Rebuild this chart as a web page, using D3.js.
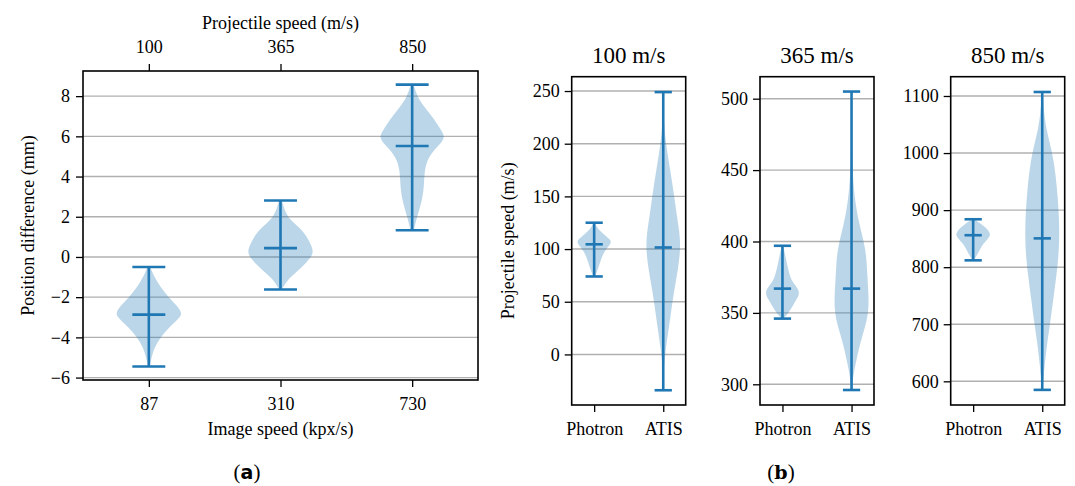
<!DOCTYPE html>
<html>
<head>
<meta charset="utf-8">
<script src="https://cdn.jsdelivr.net/npm/d3@7"></script>
<style>
  body { margin: 0; background: #fff; }
  svg { display: block; font-family: "Liberation Serif", "DejaVu Serif", serif; }
</style>
</head>
<body>
<svg id="chart" width="1075" height="486"></svg>
<script>
// ---- panel (a) data: position difference per image speed ----
const imageSpeeds = ['87', '310', '730'];
const projSpeedsTop = ['100', '365', '850'];
const posMin = [-5.45, -1.62, 1.33];
const posMax = [-0.5, 2.81, 8.57];
const posMedian = [-2.87, 0.44, 5.52];
// violin outlines: [value, relative half width]
const posShape87 = [[-5.45,0.03],[-5.0,0.08],[-4.5,0.17],[-4.0,0.35],[-3.5,0.62],[-3.0,0.95],[-2.8,1.0],[-2.5,0.9],[-2.0,0.6],[-1.5,0.35],[-1.0,0.17],[-0.5,0.04]];
const posShape310 = [[-1.62,0.04],[-1.2,0.18],[-0.8,0.45],[-0.4,0.72],[0,0.93],[0.25,1.0],[0.6,0.93],[1.0,0.8],[1.4,0.62],[1.8,0.32],[2.2,0.15],[2.81,0.04]];
const posShape730 = [[1.33,0.05],[2.0,0.15],[2.8,0.3],[3.5,0.36],[4.2,0.37],[4.8,0.45],[5.3,0.65],[5.7,0.9],[6.0,1.0],[6.4,0.85],[7.0,0.6],[7.5,0.35],[8.0,0.15],[8.57,0.04]];
const posTicks = [-6, -4, -2, 0, 2, 4, 6, 8];

// ---- panel (b) data: measured projectile speed per device ----
const devices = ['Photron', 'ATIS'];
const speedTitles = ['100 m/s', '365 m/s', '850 m/s'];
const speedMin = [[74, -34], [346, 296], [812, 585]];
const speedMax = [[125, 249], [397, 505], [884, 1107]];
const speedMedian = [[104.5, 101.5], [367, 367], [856, 850.5]];
const speedShapePhotron100 = [[74,0.05],[80,0.2],[88,0.35],[95,0.5],[100,0.7],[105,0.95],[108,1.0],[112,0.7],[117,0.35],[121,0.15],[125,0.04]];
const speedShapeAtis100 = [[-34,0.01],[-15,0.03],[0,0.1],[20,0.28],[40,0.45],[60,0.62],[80,0.85],[100,1.0],[115,0.95],[130,0.8],[150,0.64],[170,0.45],[190,0.25],[210,0.08],[230,0.02],[249,0.01]];
const speedShapePhotron365 = [[346,0.05],[350,0.35],[355,0.6],[360,0.85],[364,1.0],[368,0.85],[372,0.55],[378,0.38],[385,0.25],[391,0.15],[397,0.04]];
const speedShapeAtis365 = [[296,0.02],[305,0.08],[315,0.25],[325,0.42],[335,0.65],[345,0.9],[355,1.0],[365,0.97],[375,0.92],[385,0.88],[395,0.8],[405,0.6],[415,0.4],[425,0.25],[440,0.1],[460,0.04],[480,0.02],[505,0.01]];
const speedShapePhotron850 = [[812,0.05],[820,0.2],[830,0.38],[840,0.55],[848,0.8],[855,1.0],[862,0.95],[870,0.7],[877,0.4],[884,0.08]];
const speedShapeAtis850 = [[585,0.02],[610,0.08],[640,0.18],[670,0.3],[700,0.45],[740,0.62],[780,0.8],[820,0.95],[860,1.0],[900,0.95],[940,0.85],[980,0.7],[1010,0.5],[1040,0.25],[1070,0.1],[1107,0.02]];
const speedTicks = [[0, 50, 100, 150, 200, 250], [300, 350, 400, 450, 500], [600, 700, 800, 900, 1000, 1100]];
const speedDomains = [[-48, 263.6], [285.5, 515.4], [558.5, 1133.8]];

const blue = '#1f77b4';
const fs = 18;
const svg = d3.select('#chart');

// draws the violins and their min/max/median bars
function drawViolins(g, x, y, shapes, mins, maxs, meds) {
  const unit = x(2) - x(1);
  const area = d3.area()
    .curve(d3.curveBasis);
  shapes.forEach((s, i) => {
    const cx = x(i + 1);
    area.y(d => y(d[0]))
      .x0(d => cx - d[1] * 0.25 * unit)
      .x1(d => cx + d[1] * 0.25 * unit);
    g.append('path')
      .attr('d', area(s))
      .attr('fill', blue)
      .attr('fill-opacity', 0.3);
  });
  shapes.forEach((s, i) => {
    const cx = x(i + 1);
    const cap = 0.125 * unit;
    g.append('line')
      .attr('x1', cx).attr('x2', cx)
      .attr('y1', y(mins[i])).attr('y2', y(maxs[i]))
      .attr('stroke', blue).attr('stroke-width', 2.6);
    [mins[i], maxs[i], meds[i]].forEach(v => {
      g.append('line')
        .attr('x1', cx - cap).attr('x2', cx + cap)
        .attr('y1', y(v)).attr('y2', y(v))
        .attr('stroke', blue).attr('stroke-width', 2.6);
    });
  });
}

function drawGrid(g, y, ticks, x0, x1) {
  g.selectAll('.grid')
    .data(ticks)
    .enter()
    .append('line')
    .attr('x1', x0).attr('x2', x1)
    .attr('y1', d => y(d)).attr('y2', d => y(d))
    .attr('stroke', '#b0b0b0')
    .attr('stroke-width', 1.4);
}

function styleAxis(sel) {
  sel.select('.domain').remove();
  sel.selectAll('line').attr('stroke', '#000').attr('stroke-width', 1.3);
  sel.selectAll('text').attr('font-size', fs).attr('fill', '#000')
    .attr('font-family', '"Liberation Serif", serif');
}

function frame(g, left, top, right, bottom) {
  g.append('rect')
    .attr('x', left).attr('y', top)
    .attr('width', right - left).attr('height', bottom - top)
    .attr('fill', 'none').attr('stroke', '#000').attr('stroke-width', 1.6);
}

// ---------------- panel (a) ----------------
{
  const L = 83, R = 478, T = 71, B = 380;
  const x = d3.scaleLinear().domain([0.5, 3.5]).range([L, R]);
  const y = d3.scaleLinear().domain([-6.12, 9.25]).range([B, T]);
  const g = svg.append('g');
  g.append('clipPath').attr('id', 'clipA')
    .append('rect').attr('x', L).attr('y', T).attr('width', R - L).attr('height', B - T);
  drawGrid(g.append('g').attr('clip-path', 'url(#clipA)'), y, posTicks, L, R);
  drawViolins(g, x, y, [posShape87, posShape310, posShape730], posMin, posMax, posMedian);

  const yAx = g.append('g').attr('transform', `translate(${L},0)`)
    .call(d3.axisLeft(y).tickValues(posTicks).tickSize(7).tickPadding(6)
      .tickFormat(d => d < 0 ? '\u2212' + Math.abs(d) : d));
  styleAxis(yAx);
  const xAx = g.append('g').attr('transform', `translate(0,${B})`)
    .call(d3.axisBottom(x).tickValues([1, 2, 3]).tickSize(7).tickPadding(10)
      .tickFormat((d, i) => imageSpeeds[i]));
  styleAxis(xAx);
  const tAx = g.append('g').attr('transform', `translate(0,${T})`)
    .call(d3.axisTop(x).tickValues([1, 2, 3]).tickSize(7).tickPadding(11)
      .tickFormat((d, i) => projSpeedsTop[i]));
  styleAxis(tAx);
  frame(g, L, T, R, B);

  g.append('text').attr('x', (L + R) / 2).attr('y', 29)
    .attr('text-anchor', 'middle').attr('font-size', fs).text('Projectile speed (m/s)');
  g.append('text').attr('x', (L + R) / 2).attr('y', 435)
    .attr('text-anchor', 'middle').attr('font-size', fs).text('Image speed (kpx/s)');
  g.append('text').attr('transform', `translate(34,${(T + B) / 2}) rotate(-90)`)
    .attr('text-anchor', 'middle').attr('font-size', fs).text('Position difference (mm)');
  const lab = g.append('text').attr('x', 247).attr('y', 479)
    .attr('text-anchor', 'middle').attr('font-size', 21);
  lab.append('tspan').text('(');
  lab.append('tspan').attr('font-weight', 'bold').attr('font-family', '"DejaVu Sans", sans-serif').attr('font-size', 19).text('a');
  lab.append('tspan').text(')');
}

// ---------------- panel (b) ----------------
const bLefts = [571.7, 760, 950.7];
const bWidth = 114;
const bTop = 76.7, bBottom = 405;
const bShapes = [
  [speedShapePhotron100, speedShapeAtis100],
  [speedShapePhotron365, speedShapeAtis365],
  [speedShapePhotron850, speedShapeAtis850]
];
bLefts.forEach((L, k) => {
  const R = L + bWidth;
  const x = d3.scaleLinear().domain([0.675, 2.325]).range([L, R]);
  const y = d3.scaleLinear().domain(speedDomains[k]).range([bBottom, bTop]);
  const g = svg.append('g');
  g.append('clipPath').attr('id', 'clipB' + k)
    .append('rect').attr('x', L).attr('y', bTop).attr('width', bWidth).attr('height', bBottom - bTop);
  drawGrid(g.append('g').attr('clip-path', `url(#clipB${k})`), y, speedTicks[k], L, R);
  drawViolins(g, x, y, bShapes[k], speedMin[k], speedMax[k], speedMedian[k]);

  const yAx = g.append('g').attr('transform', `translate(${L},0)`)
    .call(d3.axisLeft(y).tickValues(speedTicks[k]).tickSize(7).tickPadding(5)
      .tickFormat(d3.format('d')));
  styleAxis(yAx);
  const xAx = g.append('g').attr('transform', `translate(0,${bBottom})`)
    .call(d3.axisBottom(x).tickValues([1, 2]).tickSize(7).tickPadding(10)
      .tickFormat((d, i) => devices[i]));
  styleAxis(xAx);
  frame(g, L, bTop, R, bBottom);

  g.append('text').attr('x', (L + R) / 2).attr('y', 63)
    .attr('text-anchor', 'middle').attr('font-size', 23).text(speedTitles[k]);
});
svg.append('text').attr('transform', `translate(514,${(bTop + bBottom) / 2}) rotate(-90)`)
  .attr('text-anchor', 'middle').attr('font-size', fs).text('Projectile speed (m/s)');
{
  const lab = svg.append('text').attr('x', 781).attr('y', 479)
    .attr('text-anchor', 'middle').attr('font-size', 21);
  lab.append('tspan').text('(');
  lab.append('tspan').attr('font-weight', 'bold').attr('font-family', '"DejaVu Serif", serif').attr('font-size', 19).text('b');
  lab.append('tspan').text(')');
}
</script>
</body>
</html>
